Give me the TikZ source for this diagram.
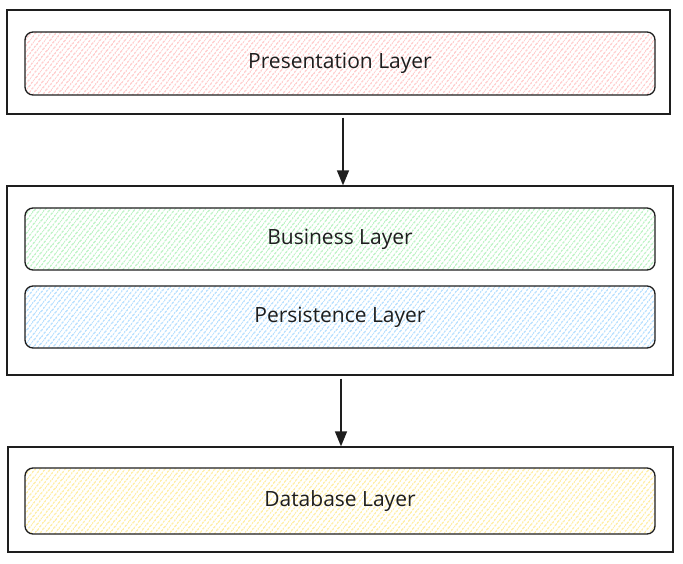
\documentclass[tikz,border=0pt]{standalone}
\usepackage{fontspec}
\setmainfont{Open Sans}
\usetikzlibrary{patterns.meta,arrows.meta}
\definecolor{ink}{HTML}{1E1E1E}
\definecolor{hatchred}{HTML}{FFB8B8}
\definecolor{hatchgreen}{HTML}{A3EEAE}
\definecolor{hatchblue}{HTML}{99D2FF}
\definecolor{hatchyellow}{HTML}{FFE680}
\tikzset{
	tierbox/.style={draw=ink, line width=1.3pt, minimum width=#1, inner sep=0pt},
	layerbox/.style={draw=ink, line width=1.3pt, rounded corners=8pt, minimum width=630pt, inner sep=0pt,
		pattern={Lines[angle=52,distance=4pt,line width=1.2pt]}, pattern color=#1,
		font=\fontsize{21}{25}\selectfont, text=ink},
	flow/.style={draw=ink, line width=1.4pt, -{Triangle[length=15pt,width=12pt]}}
}
\begin{document}
\begin{tikzpicture}[x=1pt,y=-1pt]
		\useasboundingbox (0,0) rectangle (683,564);
		
		% tiers
		\node[tierbox=663pt, minimum height=104pt] (prestier) at (338.5,62) {};
		\node[tierbox=666pt, minimum height=189pt] (logictier) at (340,280.5) {};
		\node[tierbox=665pt, minimum height=105pt] (datatier) at (340.5,499.5) {};
		
		% layers
		\node[layerbox=hatchred, minimum height=63pt] (pres) at (340,63.5) {Presentation Layer};
		\node[layerbox=hatchgreen, minimum height=62pt] (business) at (340,239) {Business Layer};
		\node[layerbox=hatchblue, minimum height=62pt] (persist) at (340,317) {Persistence Layer};
		\node[layerbox=hatchyellow, minimum height=66pt] (db) at (340,501) {Database Layer};
		
		% arrows
		\draw[flow] ([xshift=4.5pt,yshift=-3pt]prestier.south) -- ([xshift=3pt]logictier.north);
		\draw[flow] ([xshift=1pt,yshift=-3pt]logictier.south) -- ([xshift=0.5pt]datatier.north);
	\end{tikzpicture}
\end{document}
